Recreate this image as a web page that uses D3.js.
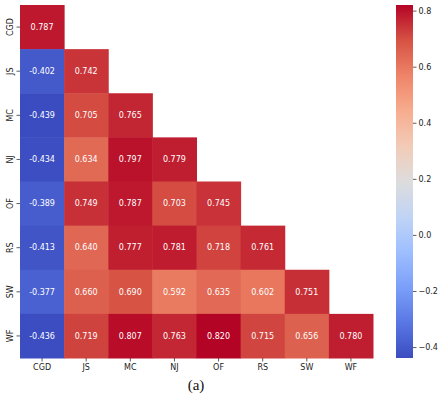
<!DOCTYPE html>
<html>
<head>
<meta charset="utf-8">
<script src="https://cdn.jsdelivr.net/npm/d3@7"></script>
<style>
  body { margin: 0; background: #fff; }
  text { font-family: "DejaVu Sans", sans-serif; }
  text.caption { font-family: "Liberation Serif", "DejaVu Serif", serif; }
</style>
</head>
<body>
<svg id="heat" width="445" height="397"></svg>
<script>
const names = ["CGD", "JS", "MC", "NJ", "OF", "RS", "SW", "WF"];
// lower triangle, row by row (row i has i+1 values)
const rowCGD = [0.787];
const rowJS = [-0.402, 0.742];
const rowMC = [-0.439, 0.705, 0.765];
const rowNJ = [-0.434, 0.634, 0.797, 0.779];
const rowOF = [-0.389, 0.749, 0.787, 0.703, 0.745];
const rowRS = [-0.413, 0.640, 0.777, 0.781, 0.718, 0.761];
const rowSW = [-0.377, 0.660, 0.690, 0.592, 0.635, 0.602, 0.751];
const rowWF = [-0.436, 0.719, 0.807, 0.763, 0.820, 0.715, 0.656, 0.780];
const rows = [rowCGD, rowJS, rowMC, rowNJ, rowOF, rowRS, rowSW, rowWF];
const cbarTicks = [-0.4, -0.2, 0.0, 0.2, 0.4, 0.6, 0.8];

const vmin = -0.439, vmax = 0.820;
const coolwarm = ['#3b4cc0', '#5977e3', '#7b9ff9', '#9ebeff', '#c0d4f5', '#dddcdc',
                  '#f2cbb7', '#f7ac8e', '#ee8468', '#d65244', '#b40426'];
const interp = d3.piecewise(d3.interpolateRgb, coolwarm);
const color = d3.scaleSequential(interp).domain([vmin, vmax]);

const cells = [];
rows.forEach((r, i) => r.forEach((v, j) => cells.push({row: names[i], col: names[j], value: v})));

const svg = d3.select("#heat");
const grid = {left: 20, top: 5, right: 373, bottom: 358};

const x = d3.scaleBand().domain(names).range([grid.left, grid.right]);
const y = d3.scaleBand().domain(names).range([grid.top, grid.bottom]);

svg.selectAll("rect.cell").data(cells).enter()
    .append("rect")
    .attr("class", "cell")
    .attr("x", d => x(d.col))
    .attr("y", d => y(d.row))
    .attr("width", x.bandwidth() + 0.5)
    .attr("height", y.bandwidth() + 0.5)
    .attr("fill", d => color(d.value));

svg.selectAll("text.val").data(cells).enter()
    .append("text")
    .attr("class", "val")
    .attr("x", d => x(d.col) + x.bandwidth() / 2)
    .attr("y", d => y(d.row) + y.bandwidth() / 2)
    .attr("dy", "0.35em")
    .attr("text-anchor", "middle")
    .attr("font-size", 8)
    .attr("fill", "#fff")
    .text(d => d3.format(".3f")(d.value).replace("−", "-"));

const xAxis = svg.append("g")
    .attr("transform", `translate(0, ${grid.bottom})`)
    .call(d3.axisBottom(x).tickSize(3.5).tickPadding(3));
const yAxis = svg.append("g")
    .attr("transform", `translate(${grid.left}, 0)`)
    .call(d3.axisLeft(y).tickSize(3.5).tickPadding(2));

[xAxis, yAxis].forEach(g => {
    g.select(".domain").remove();
    g.selectAll("line").attr("stroke", "#333").attr("stroke-width", 0.8);
    g.selectAll("text").attr("font-size", 8).attr("fill", "#222");
});
// rotate y labels to read bottom-up, like seaborn
yAxis.selectAll(".tick text")
    .attr("transform", "translate(-10, 0) rotate(-90)")
    .attr("x", 0).attr("y", 0).attr("dy", "0.32em")
    .attr("text-anchor", "middle");

// colorbar
const cb = {x: 396, w: 17, top: 5, bottom: 358};
const cy = d3.scaleLinear().domain([vmin, vmax]).range([cb.bottom, cb.top]);
const defs = svg.append("defs");
const grad = defs.append("linearGradient").attr("id", "cbgrad")
    .attr("x1", 0).attr("y1", 1).attr("x2", 0).attr("y2", 0);
d3.range(0, 1.0001, 0.05).forEach(t => {
    grad.append("stop").attr("offset", t).attr("stop-color", interp(t));
});
svg.append("rect")
    .attr("x", cb.x).attr("y", cb.top)
    .attr("width", cb.w).attr("height", cb.bottom - cb.top)
    .attr("fill", "url(#cbgrad)");

const cAxis = svg.append("g")
    .attr("transform", `translate(${cb.x + cb.w}, 0)`)
    .call(d3.axisRight(cy).tickValues(cbarTicks).tickSize(3.5).tickPadding(2)
        .tickFormat(d => d3.format(".1f")(d)));
cAxis.select(".domain").remove();
cAxis.selectAll("line").attr("stroke", "#333").attr("stroke-width", 0.8);
cAxis.selectAll("text").attr("font-size", 8).attr("fill", "#222");

svg.append("text")
    .attr("class", "caption")
    .attr("x", 196).attr("y", 390)
    .attr("text-anchor", "middle")
    .attr("font-size", 15)
    .attr("fill", "#111")
    .text("(a)");
</script>
</body>
</html>
